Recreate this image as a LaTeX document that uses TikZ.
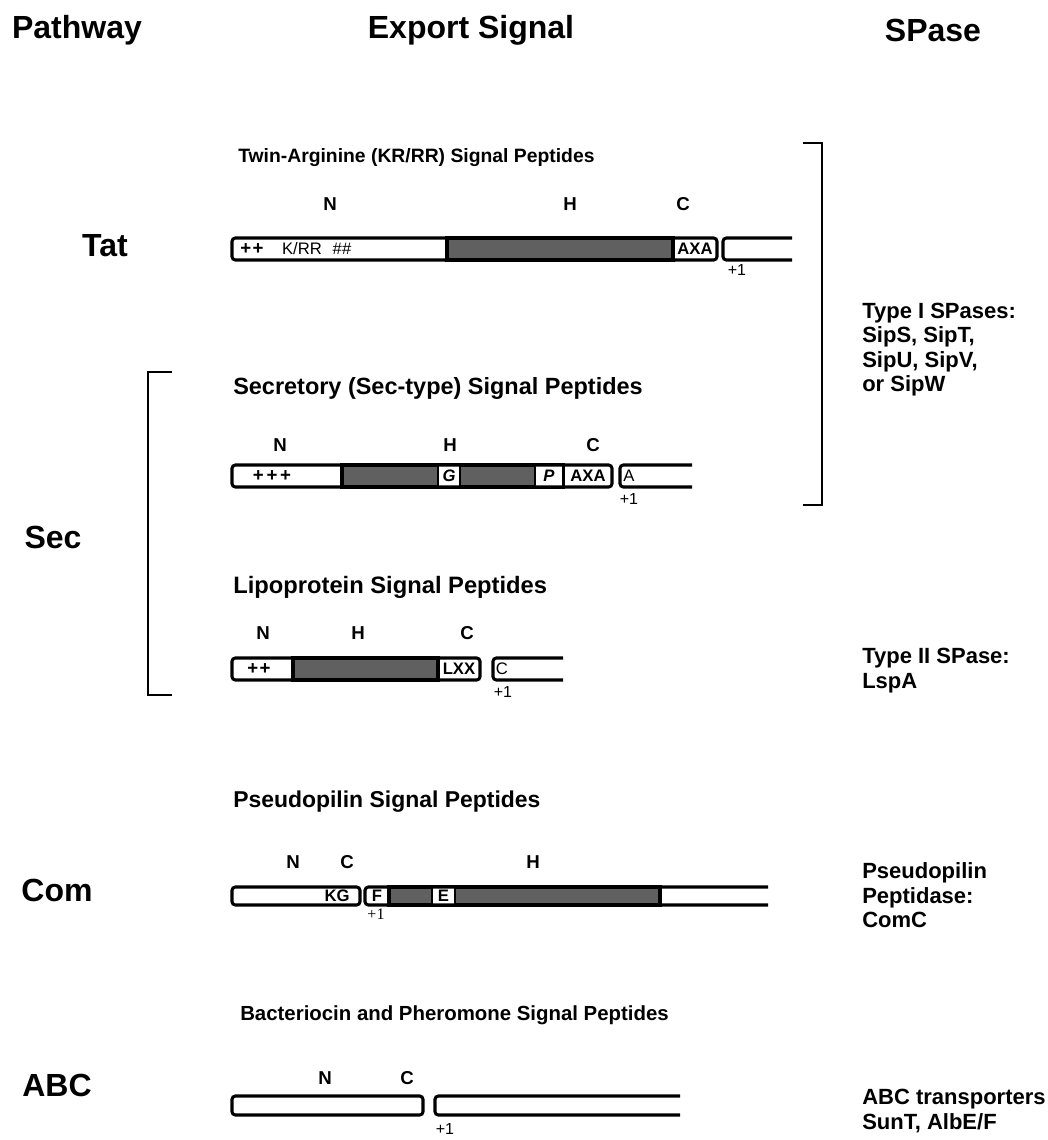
\documentclass[tikz,border=0pt]{standalone}
\usepackage{fontspec}
\setmainfont{Liberation Sans}
\newfontfamily\plusserif{Liberation Serif}
\definecolor{hgray}{RGB}{96,96,96}
\begin{document}
\begin{tikzpicture}[x=0.75pt,y=-0.75pt,
  segfill/.style={fill=white,rounded corners=2.5pt},
  segline/.style={draw=black,line width=2.3pt,rounded corners=2.5pt},
  hreg/.style={draw=black,line width=2.3pt,fill=hgray},
  ibox/.style={draw=black,line width=1.8pt,fill=white},
  head/.style={font=\bfseries\fontsize{24}{28}\selectfont,inner sep=0},
  subt/.style={font=\bfseries\fontsize{14.5}{17}\selectfont,anchor=west,inner sep=0},
  reg/.style={font=\bfseries\fontsize{14}{16}\selectfont,inner sep=0},
  intext/.style={font=\fontsize{12.5}{14}\selectfont,inner sep=0},
  inbold/.style={font=\bfseries\fontsize{12.5}{14}\selectfont,inner sep=0},
  plusses/.style={font=\bfseries\fontsize{14}{14}\selectfont,inner sep=0},
  plusone/.style={font=\fontsize{12}{13}\selectfont,inner sep=0},
  spase/.style={font=\bfseries\fontsize{16.5}{18.4}\selectfont,anchor=west,align=left,inner sep=0},
  brk/.style={draw=black,line width=2.2pt}]
\useasboundingbox (0,0) rectangle (1048,1140);

% headers
\node[head] (hpath) at (77,30) {Pathway};
\node[head] (hexp) at (471,30) {Export Signal};
\node[head] (hspase) at (933,30) {SPase};

% row labels
\node[head] (ltat) at (105,246) {Tat};
\node[head] (lsec) at (53,537) {Sec};
\node[head] (lcom) at (57,890) {Com};
\node[head] (labc) at (57,1085) {ABC};

% brackets
\draw[brk] (803,143) -- (822,143) -- (822,505) -- (803,505);
\draw[brk] (172,372) -- (148,372) -- (148,695) -- (172,695);

% ---------------- Tat ----------------
\node[subt] (stat) at (238,158) {Twin-Arginine (KR/RR) Signal Peptides};
\node[reg] (tatN) at (330,204) {N};
\node[reg] (tatH) at (570,204) {H};
\node[reg] (tatC) at (683,204) {C};
\fill[segfill] (232,238) rectangle (717,260);
\draw[hreg] (447,238) rectangle (673,260);
\draw[segline] (232,238) rectangle (717,260);
\node[plusses] (tatpp) at (252,249) {+\kern1pt+};
\node[intext] (tatkrr) at (302,249) {K/RR};
\node[intext] (tathash) at (342,249) {\#\#};
\node[inbold] (tataxa) at (695,249) {AXA};
\draw[segline] (792,238) -- (723,238) -- (723,260) -- (792,260);
\node[plusone] (tatp1) at (737,270) {+1};

% ---------------- Sec ----------------
\node[subt,font=\bfseries\fontsize{17.6}{20}\selectfont] (ssec) at (233,388) {Secretory (Sec-type) Signal Peptides};
\node[reg] (secN) at (280,445) {N};
\node[reg] (secH) at (450,445) {H};
\node[reg] (secC) at (593,445) {C};
\fill[segfill] (232,465) rectangle (612,487);
\draw[hreg] (342,465) rectangle (563,487);
\draw[ibox] (438,465) rectangle (460,487);
\draw[ibox] (535,465) rectangle (563,487);
\draw[segline] (232,465) rectangle (612,487);
\node[plusses] (secppp) at (272,476) {+\kern2pt+\kern2pt+};
\node[inbold] (secG) at (449,476) {\itshape G};
\node[inbold] (secP) at (549,476) {\itshape P};
\node[inbold] (secaxa) at (588,476) {AXA};
\draw[segline] (692,465) -- (620,465) -- (620,487) -- (692,487);
\node[intext] (secA) at (629,476) {A};
\node[plusone] (secp1) at (629,499) {+1};

% ---------------- Lipoprotein ----------------
\node[subt,font=\bfseries\fontsize{17.8}{20}\selectfont] (slip) at (233,587) {Lipoprotein Signal Peptides};
\node[reg] (lipN) at (263,633) {N};
\node[reg] (lipH) at (358,633) {H};
\node[reg] (lipC) at (467,633) {C};
\fill[segfill] (232,658) rectangle (480,680);
\draw[hreg] (293,658) rectangle (438,680);
\draw[segline] (232,658) rectangle (480,680);
\node[plusses] (lippp) at (259,669) {+\kern1pt+};
\node[inbold] (liplxx) at (459,669) {LXX};
\draw[segline] (563,658) -- (493,658) -- (493,680) -- (563,680);
\node[intext] (lipCc) at (502,669) {C};
\node[plusone] (lipp1) at (503,692) {+1};

% ---------------- Com ----------------
\node[subt,font=\bfseries\fontsize{17.2}{20}\selectfont] (scom) at (233,802) {Pseudopilin Signal Peptides};
\node[reg] (comN) at (293,862) {N};
\node[reg] (comC) at (347,862) {C};
\node[reg] (comH) at (533,862) {H};
\fill[segfill] (232,887) rectangle (360,905);
\draw[segline] (232,887) rectangle (360,905);
\node[inbold] (comkg) at (337,896) {KG};
\draw[hreg] (389,887) rectangle (660,905);
\draw[ibox] (432,887) rectangle (455,905);
\draw[segline] (768,887) -- (365,887) -- (365,905) -- (768,905);
\node[inbold] (comF) at (377,896) {F};
\node[inbold] (comE) at (443.5,896) {E};
\node[font=\plusserif\fontsize{12}{13}\selectfont,inner sep=0] (comp1) at (376,914) {+1};

% ---------------- ABC ----------------
\node[subt,font=\bfseries\fontsize{15.3}{18}\selectfont] (sabc) at (240,1015) {Bacteriocin and Pheromone Signal Peptides};
\node[reg] (abcN) at (325,1078) {N};
\node[reg] (abcC) at (407,1078) {C};
\fill[segfill] (232,1096) rectangle (423,1115);
\draw[segline] (232,1096) rectangle (423,1115);
\draw[segline] (680,1096) -- (435,1096) -- (435,1115) -- (680,1115);
\node[plusone] (abcp1) at (445,1129) {+1};

% ---------------- SPase labels ----------------
\node[spase] (sp1) at (862,349.5) {Type I SPases:\\SipS, SipT,\\SipU, SipV,\\or SipW};
\node[spase] (sp2) at (862,670.5) {Type II SPase:\\LspA};
\node[spase] (sp3) at (862,895.5) {Pseudopilin\\Peptidase:\\ComC};
\node[spase] (sp4) at (862,1111) {ABC transporters\\SunT, AlbE/F};
\end{tikzpicture}
\end{document}
